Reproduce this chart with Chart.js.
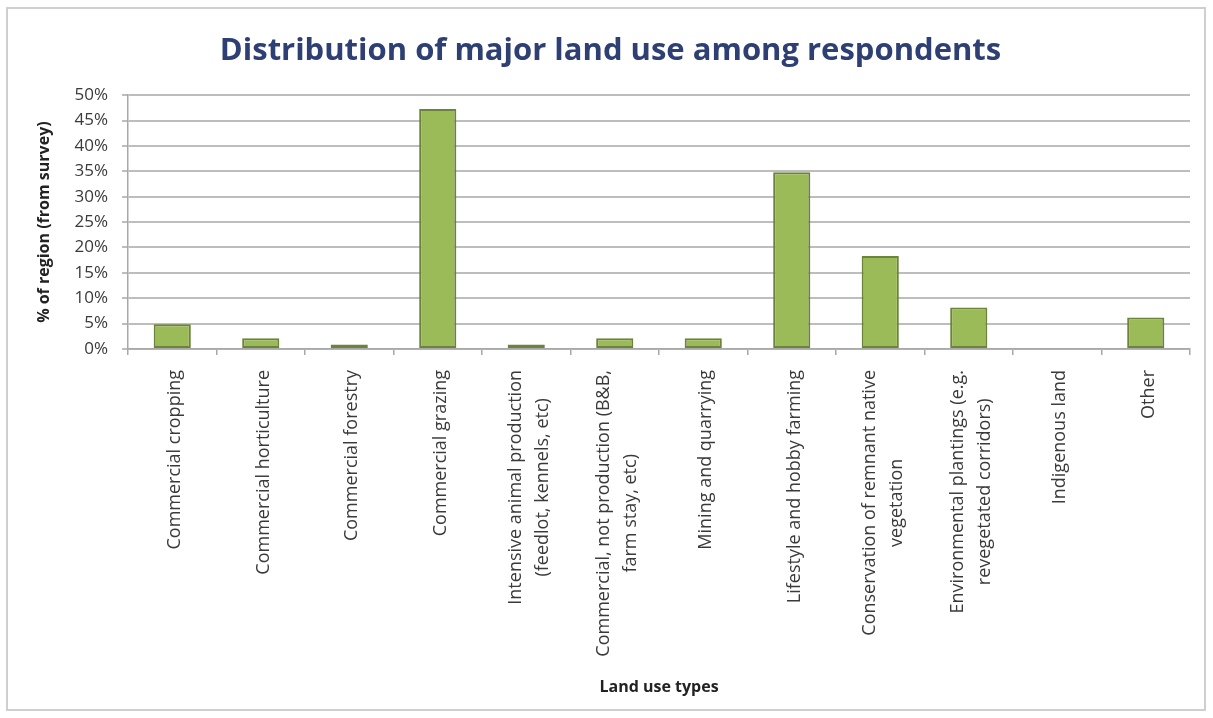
<!DOCTYPE html>
<html>
<head>
<meta charset="utf-8">
<title>Distribution of major land use among respondents</title>
<script src="https://cdn.jsdelivr.net/npm/chart.js@4"></script>
<style>
  html, body { margin: 0; padding: 0; background: #fff; }
  #wrap { position: relative; width: 1213px; height: 718px; }
</style>
</head>
<body>
<div id="wrap"><canvas id="myChart" width="1213" height="718"></canvas></div>
<script>
var landUses = [
  'Commercial cropping',
  'Commercial horticulture',
  'Commercial forestry',
  'Commercial grazing',
  ['Intensive animal production', '(feedlot, kennels, etc)'],
  ['Commercial, not production (B&B,', 'farm stay, etc)'],
  'Mining and quarrying',
  'Lifestyle and hobby farming',
  ['Conservation of remnant native', 'vegetation'],
  ['Environmental plantings (e.g.', 'revegetated corridors)'],
  'Indigenous land',
  'Other'
];
var percentOfRegion = [4.9, 2.1, 0.9, 47.3, 0.9, 2.1, 2.1, 34.8, 18.3, 8.2, 0, 6.2];
var yTicks = [0, 5, 10, 15, 20, 25, 30, 35, 40, 45, 50];

var labelFont = '18px "Open Sans", sans-serif';
var textColor = '#3a3a3a';

// outer frame around the whole chart
var framePlugin = {
  id: 'frame',
  beforeDraw: function (chart) {
    var c = chart.ctx;
    c.save();
    c.fillStyle = '#fff';
    c.fillRect(0, 0, chart.width, chart.height);
    c.strokeStyle = '#cfcfcf';
    c.lineWidth = 2;
    c.strokeRect(7, 8, 1198, 702);
    c.restore();
  }
};

// vertical category labels, each line centred on the longest one
var verticalLabels = {
  id: 'verticalLabels',
  afterDraw: function (chart) {
    var xs = chart.scales.x;
    var c = chart.ctx;
    c.save();
    c.font = labelFont;
    c.fillStyle = textColor;
    c.textAlign = 'center';
    c.textBaseline = 'middle';
    var lineGap = 27;
    landUses.forEach(function (lab, i) {
      var lines = Array.isArray(lab) ? lab : [lab];
      var widest = Math.max.apply(null, lines.map(function (l) { return c.measureText(l).width; }));
      c.save();
      c.translate(xs.getPixelForValue(i) + 3, xs.top + 21);
      c.rotate(-Math.PI / 2);
      lines.forEach(function (l, j) {
        c.fillText(l, -widest / 2, (j - (lines.length - 1) / 2) * lineGap);
      });
      c.restore();
    });
    c.restore();
  }
};

var ctx = document.getElementById('myChart').getContext('2d');
var myChart = new Chart(ctx, {
  type: 'bar',
  data: {
    labels: landUses,
    datasets: [{
      label: '% of region (from survey)',
      data: percentOfRegion,
      backgroundColor: '#9bbb59',
      borderColor: '#6b833b',
      borderWidth: 2,
      borderSkipped: false,
      categoryPercentage: 1,
      barPercentage: 0.42
    }]
  },
  options: {
    responsive: false,
    animation: false,
    layout: { padding: { top: 33, left: 31, right: 23, bottom: 17 } },
    plugins: {
      legend: { display: false },
      tooltip: { enabled: false },
      title: {
        display: true,
        text: 'Distribution of major land use among respondents',
        color: '#2e3f74',
        font: { family: '"Open Sans", sans-serif', size: 31, weight: 'bold' },
        padding: { top: 0, bottom: 25 }
      }
    },
    scales: {
      x: {
        afterFit: function (scale) { scale.height = 352; },
        ticks: { display: false },
        grid: {
          display: true,
          drawOnChartArea: false,
          tickLength: 6,
          color: '#a8a8a8',
          lineWidth: 1.5
        },
        border: { color: '#a8a8a8', width: 1.5 },
        title: {
          display: true,
          text: 'Land use types',
          color: '#222',
          font: { family: '"Open Sans", sans-serif', size: 16, weight: 'bold' },
          padding: { top: 0, bottom: 4 }
        }
      },
      y: {
        min: 0,
        max: 50,
        afterFit: function (scale) { scale.width = 97; },
        afterBuildTicks: function (scale) {
          scale.ticks = yTicks.map(function (v) { return { value: v }; });
        },
        ticks: {
          padding: 14,
          color: textColor,
          font: { family: '"Open Sans", sans-serif', size: 17 },
          callback: function (v) { return v + '%'; }
        },
        grid: {
          color: '#bdbdbd',
          lineWidth: 2,
          tickLength: 6
        },
        border: { color: '#a8a8a8', width: 1.5 },
        title: {
          display: true,
          text: '% of region (from survey)',
          color: '#222',
          font: { family: '"Open Sans", sans-serif', size: 16, weight: 'bold' },
          padding: { top: 4, bottom: 4 }
        }
      }
    }
  },
  plugins: [framePlugin, verticalLabels]
});
</script>
</body>
</html>
